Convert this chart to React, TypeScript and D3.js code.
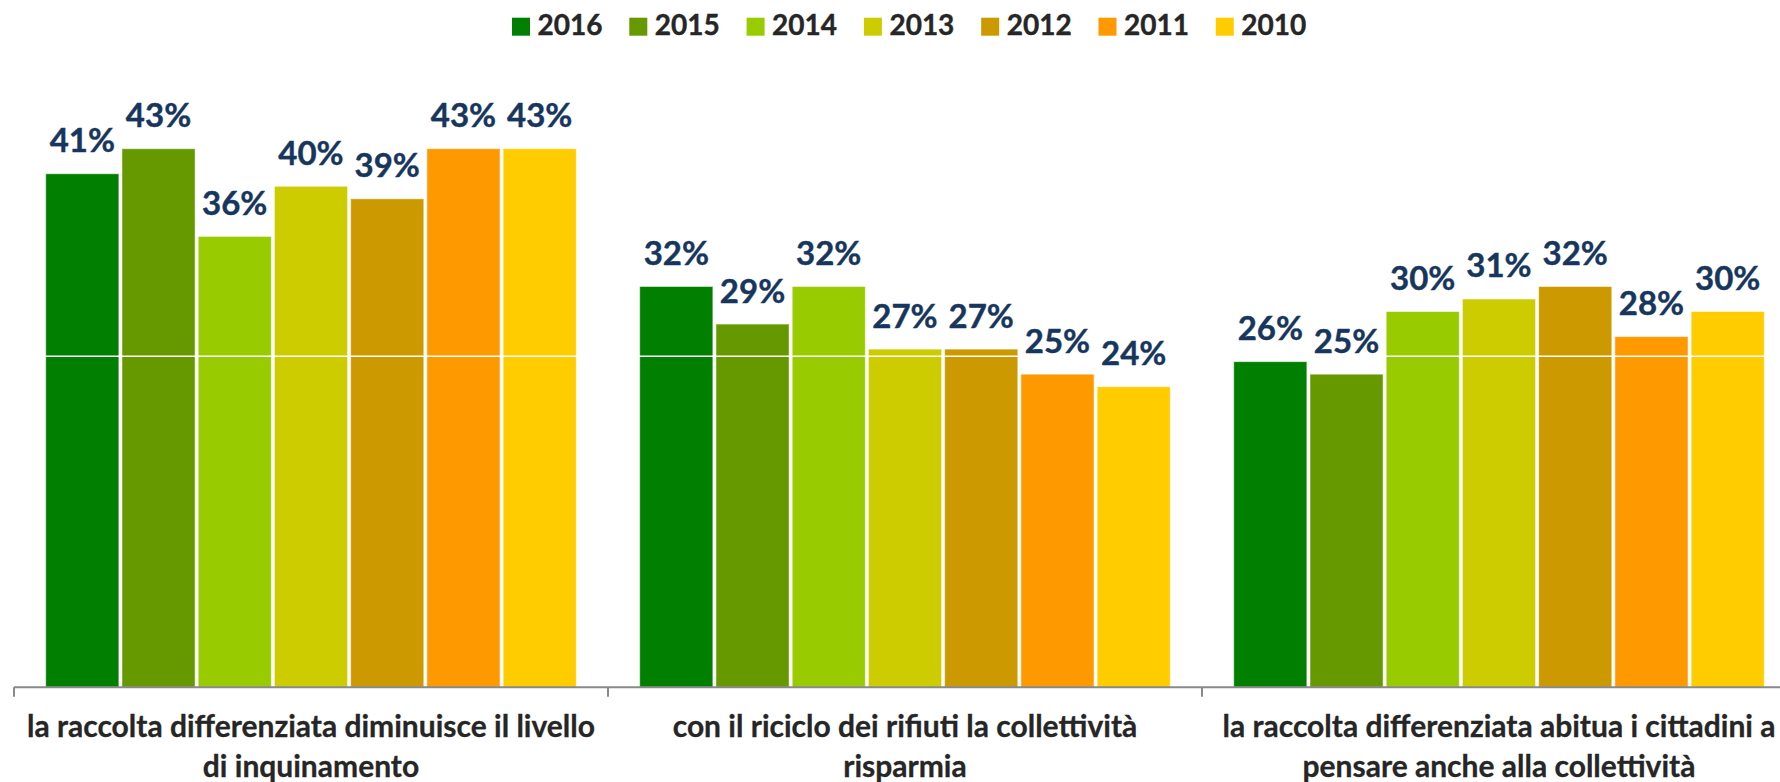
import React from "react";
import * as d3 from "d3";

const categories: string[][] = [
  ["la raccolta differenziata diminuisce il livello", "di inquinamento"],
  ["con il riciclo dei rifiuti la collettività", "risparmia"],
  ["la raccolta differenziata abitua i cittadini a", "pensare anche alla collettività"],
];
const years = ["2016", "2015", "2014", "2013", "2012", "2011", "2010"];
const colors = ["#007F00", "#669900", "#99CC00", "#CCCC00", "#CC9900", "#FF9900", "#FFCC00"];
const values2016 = [0.41, 0.32, 0.26];
const values2015 = [0.43, 0.29, 0.25];
const values2014 = [0.36, 0.32, 0.30];
const values2013 = [0.40, 0.27, 0.31];
const values2012 = [0.39, 0.27, 0.32];
const values2011 = [0.43, 0.25, 0.28];
const values2010 = [0.43, 0.24, 0.30];
const series = [values2016, values2015, values2014, values2013, values2012, values2011, values2010];
const yMax = 0.5285;
const gridTicks = [yMax / 2];

const W = 1780;
const H = 782;
const FONT = "Lato, 'Open Sans', sans-serif";

export default function App() {
  React.useEffect(() => {
    document.body.style.margin = "0";
  }, []);

  const plotLeft = 14;
  const plotRight = 14 + 594 * 3;
  const baseY = 687.3;
  const plotTop = 25.3;

  const x0 = d3.scaleBand<number>().domain(categories.map((_, i) => i)).range([plotLeft, plotRight]).paddingInner(0).paddingOuter(0);
  const groupPad = 31.7;
  const x1 = d3
    .scaleBand<string>()
    .domain(years)
    .range([groupPad, x0.bandwidth() - groupPad])
    .paddingInner(0.04)
    .paddingOuter(0);
  const y = d3.scaleLinear().domain([0, yMax]).range([baseY, plotTop]);
  const fmt = d3.format(".0%");

  const legendStart = 512;
  const legendStep = 117.3;

  return (
    <svg width={W} height={H} style={{ position: "absolute", left: 0, top: 0, display: "block" }} fontFamily={FONT}>
      <rect x={0} y={0} width={W} height={H} fill="#ffffff" />
      {/* bars */}
      {categories.map((cat, ci) => (
        <g key={ci} transform={`translate(${x0(ci)},0)`}>
          {years.map((yr, si) => {
            const v = series[si][ci];
            const bx = x1(yr)!;
            return (
              <rect
                key={yr}
                x={bx}
                y={y(v)}
                width={x1.bandwidth()}
                height={baseY - y(v)}
                fill={colors[si]}
                stroke="#ffffff"
                strokeOpacity={0.55}
                strokeWidth={1}
              />
            );
          })}
        </g>
      ))}
      {/* gridlines (white, over bars) */}
      {gridTicks.map((t, i) => (
        <line key={i} x1={plotLeft} x2={plotRight} y1={y(t)} y2={y(t)} stroke="#ffffff" strokeWidth={1.5} />
      ))}
      {/* data labels */}
      {categories.map((cat, ci) => (
        <g key={ci} transform={`translate(${x0(ci)},0)`}>
          {years.map((yr, si) => {
            const v = series[si][ci];
            const bx = x1(yr)!;
            return (
              <text
                key={yr}
                x={bx + x1.bandwidth() / 2}
                y={y(v) - 21.5}
                textAnchor="middle"
                fontSize={33}
                fontWeight={700}
                fill="#17365D"
                stroke="#17365D"
                strokeWidth={0.4}
              >
                {fmt(v)}
              </text>
            );
          })}
        </g>
      ))}
      {/* legend */}
      {years.map((yr, i) => (
        <g key={yr} transform={`translate(${legendStart + i * legendStep},0)`}>
          <rect x={0} y={17.7} width={18} height={18} fill={colors[i]} />
          <text x={25.5} y={34.5} fontSize={28} fontWeight={700} fill="#262626" stroke="#262626" strokeWidth={0.4}>
            {yr}
          </text>
        </g>
      ))}
      {/* axis */}
      <line x1={plotLeft} x2={plotRight} y1={baseY} y2={baseY} stroke="#898989" strokeWidth={2} />
      {categories.map((_, ci) => (
        <line key={ci} x1={x0(ci)!} x2={x0(ci)!} y1={baseY} y2={baseY + 9.5} stroke="#898989" strokeWidth={2} />
      ))}
      <line x1={plotRight} x2={plotRight} y1={baseY} y2={baseY + 9.5} stroke="#898989" strokeWidth={2} />
      {/* category labels */}
      {categories.map((lines, ci) => (
        <text
          key={ci}
          x={x0(ci)! + x0.bandwidth() / 2}
          y={737}
          textAnchor="middle"
          fontSize={30}
          fontWeight={700}
          fill="#262626"
          stroke="#262626"
          strokeWidth={0.3}
        >
          {lines.map((ln, li) => (
            <tspan key={li} x={x0(ci)! + x0.bandwidth() / 2} dy={li === 0 ? 0 : 39.5}>
              {ln}
            </tspan>
          ))}
        </text>
      ))}
    </svg>
  );
}
